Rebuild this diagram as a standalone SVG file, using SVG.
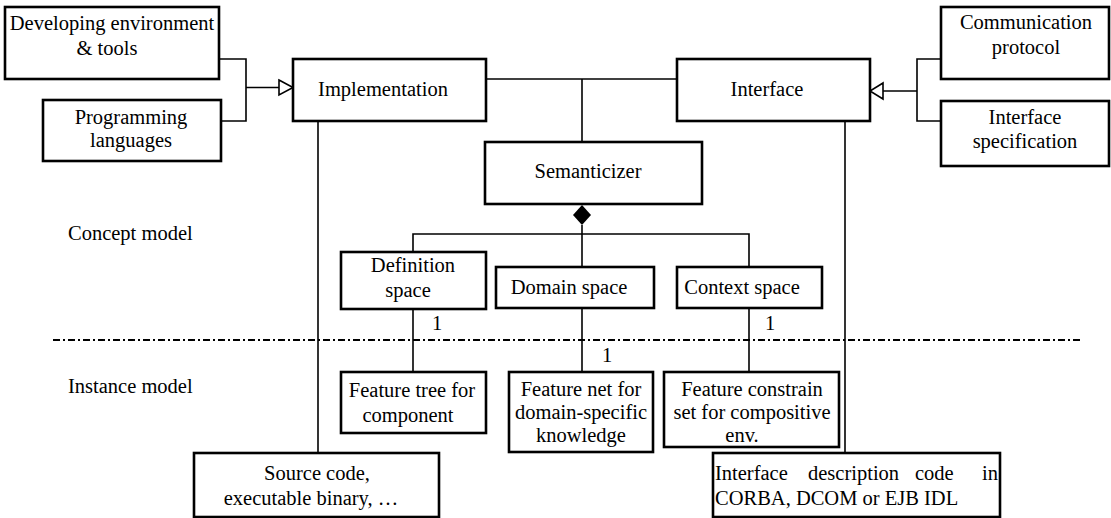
<svg xmlns="http://www.w3.org/2000/svg" width="1111" height="518" viewBox="0 0 1111 518">
<style>
text{font-family:"Liberation Serif","Times New Roman",serif;font-size:20.5px;fill:#000}
.box{fill:#fff;stroke:#000;stroke-width:2.6}
.ln{fill:none;stroke:#000;stroke-width:1.6}
.m{text-anchor:middle}
</style>
<rect width="1111" height="518" fill="#fff"/>
<g id="connectors">
<polyline class="ln" points="219,59 246,59 246,121 221,121"/>
<line class="ln" x1="246" y1="87.5" x2="279" y2="87.5"/>
<polygon points="279,80 293,87.5 279,95" fill="#fff" stroke="#000" stroke-width="1.6"/>
<line class="ln" x1="486" y1="79" x2="677" y2="79"/>
<line class="ln" x1="582" y1="79" x2="582" y2="142"/>
<polyline class="ln" points="941,59 917,59 917,121 941,121"/>
<line class="ln" x1="883" y1="91" x2="917" y2="91"/>
<polygon points="883,83 870,91 883,99" fill="#fff" stroke="#000" stroke-width="1.6"/>
<line class="ln" x1="318" y1="121" x2="318" y2="453"/>
<line class="ln" x1="845" y1="121" x2="845" y2="453"/>
<polygon points="582,205 591,215 582,225 573,215" fill="#000"/>
<line class="ln" x1="582" y1="225" x2="582" y2="267"/>
<polyline class="ln" points="413,252 413,234 749,234 749,270"/>
<line class="ln" x1="413" y1="309" x2="413" y2="372"/>
<line class="ln" x1="582" y1="308" x2="582" y2="372"/>
<line class="ln" x1="749" y1="308" x2="749" y2="372"/>
<line x1="53" y1="340" x2="1083" y2="340" stroke="#000" stroke-width="1.8" stroke-dasharray="7 3 2 3"/>
<text class="m" x="437" y="330">1</text>
<text class="m" x="770" y="330">1</text>
<text class="m" x="607" y="362">1</text>
</g>
<g id="labels">
<text x="68" y="240">Concept model</text>
<text x="68" y="393">Instance model</text>
</g>
<g id="dev-env">
<rect class="box" x="5" y="7" width="214" height="72"/>
<text class="m" x="112" y="30">Developing environment</text>
<text class="m" x="107" y="55">&amp; tools</text>
</g>
<g id="prog-lang">
<rect class="box" x="43" y="100" width="178" height="61"/>
<text class="m" x="131" y="124">Programming</text>
<text class="m" x="131" y="147">languages</text>
</g>
<g id="implementation">
<rect class="box" x="293" y="59" width="193" height="62"/>
<text class="m" x="383" y="96">Implementation</text>
</g>
<g id="interface">
<rect class="box" x="677" y="59" width="193" height="62"/>
<text class="m" x="767" y="96">Interface</text>
</g>
<g id="comm-protocol">
<rect class="box" x="941" y="7" width="168" height="72"/>
<text class="m" x="1026" y="29">Communication</text>
<text class="m" x="1026" y="54">protocol</text>
</g>
<g id="interface-spec">
<rect class="box" x="941" y="101" width="168" height="65"/>
<text class="m" x="1025" y="124">Interface</text>
<text class="m" x="1025" y="148">specification</text>
</g>
<g id="semanticizer">
<rect class="box" x="485" y="142" width="217" height="62"/>
<text class="m" x="588" y="178">Semanticizer</text>
</g>
<g id="definition-space">
<rect class="box" x="341" y="252" width="145" height="57"/>
<text class="m" x="413" y="272">Definition</text>
<text class="m" x="408" y="297">space</text>
</g>
<g id="domain-space">
<rect class="box" x="496" y="267" width="158" height="41"/>
<text class="m" x="569" y="294">Domain space</text>
</g>
<g id="context-space">
<rect class="box" x="677" y="267" width="145" height="41"/>
<text class="m" x="742" y="294">Context space</text>
</g>
<g id="feature-tree">
<rect class="box" x="341" y="372" width="145" height="61"/>
<text class="m" x="412" y="397">Feature tree for</text>
<text class="m" x="408" y="422">component</text>
</g>
<g id="feature-net">
<rect class="box" x="509" y="372" width="144" height="80"/>
<text class="m" x="581" y="396">Feature net for</text>
<text class="m" x="581" y="419">domain-specific</text>
<text class="m" x="581" y="442">knowledge</text>
</g>
<g id="feature-constrain">
<rect class="box" x="664" y="372" width="175" height="75"/>
<text class="m" x="752" y="396">Feature constrain</text>
<text class="m" x="752" y="419">set for compositive</text>
<text class="m" x="742" y="442">env.</text>
</g>
<g id="source-code">
<rect class="box" x="194" y="453" width="245" height="64"/>
<text class="m" x="317" y="480">Source code,</text>
<text class="m" x="311" y="505">executable binary, …</text>
</g>
<g id="interface-desc">
<rect class="box" x="713" y="453" width="287" height="64"/>
<text x="715" y="480">Interface</text>
<text x="808" y="480">description</text>
<text x="915" y="480">code</text>
<text x="982" y="480">in</text>
<text x="715" y="505">CORBA, DCOM or EJB IDL</text>
</g>
</svg>
